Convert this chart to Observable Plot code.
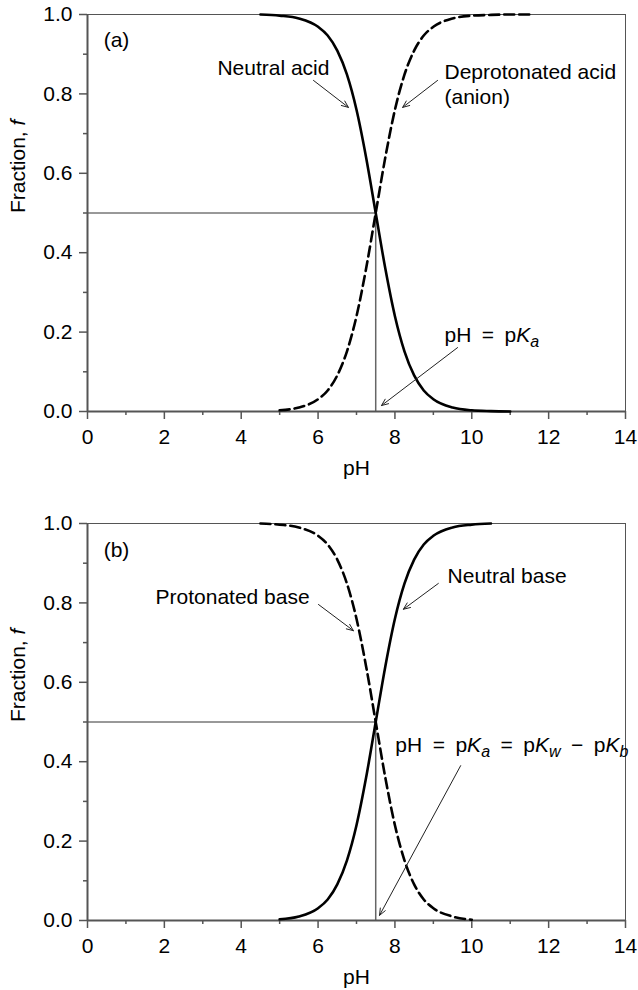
<!DOCTYPE html>
<html>
<head>
<meta charset="utf-8">
<script src="https://cdn.jsdelivr.net/npm/d3@7"></script>
<script src="https://cdn.jsdelivr.net/npm/@observablehq/plot@0.6"></script>
<style>
  html, body { margin: 0; padding: 0; background: white; }
  #chart { width: 638px; }
  #chart svg { display: block; }
</style>
</head>
<body>
<div id="chart"></div>
<script>
// ---- data ----
const pH = [4.5, 5, 5.5, 6, 6.25, 6.5, 6.75, 7, 7.25, 7.5, 7.75, 8, 8.25, 8.5, 8.75, 9, 9.5, 10, 10.5, 11, 11.5];
// panel (a)
const neutralAcid      = [1.000, 0.997, 0.990, 0.969, 0.947, 0.909, 0.849, 0.760, 0.640, 0.500, 0.360, 0.240, 0.151, 0.091, 0.053, 0.031, 0.010, 0.003, 0.001, 0.000, null];
const deprotonatedAcid = [null, 0.003, 0.010, 0.031, 0.053, 0.091, 0.151, 0.240, 0.360, 0.500, 0.640, 0.760, 0.849, 0.909, 0.947, 0.969, 0.990, 0.997, 0.999, 1.000, 1.000];
// panel (b)
const protonatedBase   = [1.000, 0.997, 0.990, 0.969, 0.947, 0.909, 0.849, 0.760, 0.640, 0.500, 0.360, 0.240, 0.151, 0.091, 0.053, 0.031, 0.010, 0.002, null, null, null];
const neutralBase      = [null, 0.003, 0.010, 0.031, 0.053, 0.091, 0.151, 0.240, 0.360, 0.500, 0.640, 0.760, 0.849, 0.909, 0.947, 0.969, 0.990, 0.997, 1.000, null, null];

const pKa = 7.5;
const halfFraction = 0.5;

const xMajorTicks = [0, 2, 4, 6, 8, 10, 12, 14];
const xMinorTicks = [1, 3, 5, 7, 9, 11, 13];
const yMajorTicks = [0, 0.2, 0.4, 0.6, 0.8, 1.0];
const yMinorTicks = [0.1, 0.3, 0.5, 0.7, 0.9];
const xLabel = "pH";
const yLabel = "Fraction, f";

// annotation text (data units)
const labelsA = [
  {x: 0.42, y: 0.934, text: "(a)"},
  {x: 3.38, y: 0.864, text: "Neutral acid"},
  {x: 9.29, y: 0.854, text: "Deprotonated acid"},
  {x: 9.29, y: 0.791, text: "(anion)"},
  {x: 9.29, y: 0.191, text: "pH = pKa"}
];
const arrowsA = [
  {x1: 5.88, y1: 0.834, x2: 6.79, y2: 0.766},
  {x1: 9.11, y1: 0.834, x2: 8.20, y2: 0.766},
  {x1: 9.63, y1: 0.161, x2: 7.65, y2: 0.015}
];
const labelsB = [
  {x: 0.42, y: 0.932, text: "(b)"},
  {x: 1.77, y: 0.814, text: "Protonated base"},
  {x: 9.37, y: 0.866, text: "Neutral base"},
  {x: 8.01, y: 0.441, text: "pH = pKa = pKw − pKb"}
];
const arrowsB = [
  {x1: 6.01, y1: 0.796, x2: 6.92, y2: 0.730},
  {x1: 9.13, y1: 0.849, x2: 8.22, y2: 0.784},
  {x1: 9.71, y1: 0.390, x2: 7.60, y2: 0.013}
];

const FONT = "'Liberation Sans', Arial, Helvetica, sans-serif";
const FS = 21;
const AXIS = "#555";

function series(values) {
  return pH.map((p, i) => ({pH: p, f: values[i] == null ? NaN : values[i]}));
}

function panel({solid, dashed, labels, arrows, height, marginBottom}) {
  return Plot.plot({
    width: 638,
    height,
    marginLeft: 87,
    marginRight: 13,
    marginTop: 14,
    marginBottom,
    x: {domain: [0, 14]},
    y: {domain: [0, 1]},
    style: {fontFamily: FONT, fontSize: FS + "px", color: "black", background: "white", overflow: "visible"},
    marks: [
      // frame
      Plot.ruleY([1], {stroke: AXIS, strokeWidth: 1}),
      Plot.ruleX([14], {stroke: AXIS, strokeWidth: 1}),
      // reference lines at pKa
      Plot.ruleY([halfFraction], {x1: 0, x2: pKa, stroke: "#333", strokeWidth: 1}),
      Plot.ruleX([pKa], {y1: 0, y2: halfFraction, stroke: "#666", strokeWidth: 1.5}),
      // axes
      Plot.axisX({ticks: xMajorTicks, tickSize: 8, tickPadding: 10, stroke: AXIS, strokeWidth: 1.5, fontSize: FS, fill: "black", label: null, tickFormat: d => String(d)}),
      Plot.axisX({ticks: xMinorTicks, tickSize: 4, stroke: AXIS, strokeWidth: 1.5, label: null, tickFormat: () => ""}),
      Plot.axisY({ticks: yMajorTicks, tickSize: 8, tickPadding: 7, stroke: AXIS, strokeWidth: 1.5, fontSize: FS, fill: "black", label: null, tickFormat: d => d.toFixed(1)}),
      Plot.axisY({ticks: yMinorTicks, tickSize: 4, stroke: AXIS, strokeWidth: 1.5, label: null, tickFormat: () => ""}),
      Plot.ruleY([0], {stroke: AXIS, strokeWidth: 2}),
      Plot.ruleX([0], {stroke: AXIS, strokeWidth: 2}),
      // curves
      Plot.line(series(solid), {x: "pH", y: "f", stroke: "black", strokeWidth: 2.6, curve: "monotone-x"}),
      Plot.line(series(dashed), {x: "pH", y: "f", stroke: "black", strokeWidth: 2.6, strokeDasharray: "10,5", curve: "monotone-x"}),
      // annotations
      Plot.arrow(arrows, {x1: "x1", y1: "y1", x2: "x2", y2: "y2", stroke: "#222", strokeWidth: 1, headLength: 11, headAngle: 45}),
      Plot.text(labels, {x: "x", y: "y", text: "text", textAnchor: "start", lineAnchor: "middle", fontSize: FS, fill: "black"}),
      // axis titles
      Plot.text([xLabel], {frameAnchor: "bottom", dy: 57, lineAnchor: "middle", fontSize: FS, fill: "black"}),
      Plot.text([yLabel], {frameAnchor: "left", dx: -69, rotate: -90, lineAnchor: "middle", fontSize: FS, fill: "black"})
    ]
  });
}

// rich-text rendering for italic symbols and subscripts
const SP = "\u2002";
const rich = {
  "Fraction, f": ["Fraction, ", {i: "f"}],
  "pH = pKa": ["pH" + SP + "=" + SP + "p", {i: "K"}, {sub: "a"}],
  "pH = pKa = pKw − pKb": ["pH" + SP + "=" + SP + "p", {i: "K"}, {sub: "a"}, SP + "=" + SP + "p", {i: "K"}, {sub: "w"}, SP + "−" + SP + "p", {i: "K"}, {sub: "b"}]
};
const NS = "http://www.w3.org/2000/svg";
function richify(svg) {
  svg.querySelectorAll("text").forEach(t => {
    const segs = rich[t.textContent];
    if (!segs) return;
    const base = 0.32 * FS;
    t.removeAttribute("y");
    t.removeAttribute("dy");
    while (t.firstChild) t.removeChild(t.firstChild);
    segs.forEach(s => {
      const ts = document.createElementNS(NS, "tspan");
      if (typeof s === "string") {
        ts.textContent = s;
        ts.setAttribute("y", base);
      } else if (s.i) {
        ts.textContent = s.i;
        ts.setAttribute("font-style", "italic");
        ts.setAttribute("y", base);
      } else if (s.sub) {
        ts.textContent = s.sub;
        ts.setAttribute("font-style", "italic");
        ts.setAttribute("font-size", "16");
        ts.setAttribute("y", base + 5);
      }
      t.appendChild(ts);
    });
  });
}

const chart = document.getElementById("chart");
const a = panel({solid: neutralAcid, dashed: deprotonatedAcid, labels: labelsA, arrows: arrowsA, height: 509, marginBottom: 98});
const b = panel({solid: neutralBase, dashed: protonatedBase, labels: labelsB, arrows: arrowsB, height: 481, marginBottom: 70});
richify(a); richify(b);
chart.appendChild(a);
chart.appendChild(b);
</script>
</body>
</html>
